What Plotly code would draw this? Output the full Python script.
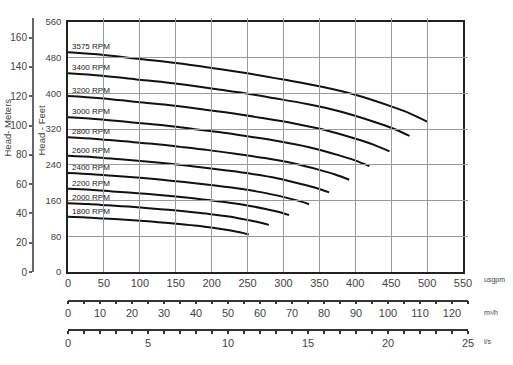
import plotly.graph_objects as go

# ---- data ----
rpm_labels = ["3575 RPM", "3400 RPM", "3200 RPM", "3000 RPM", "2800 RPM",
              "2600 RPM", "2400 RPM", "2200 RPM", "2000 RPM", "1800 RPM"]

q_3575 = [0, 50, 100, 150, 200, 250, 300, 350, 400, 450, 475, 500]
h_3575 = [492, 486, 477, 468, 457, 445, 431, 416, 397, 371, 356, 337]
q_3400 = [0, 47.6, 95.1, 142.7, 190.2, 237.8, 285.3, 332.9, 380.4, 428.0, 451.7, 475.5]
h_3400 = [445.0, 439.6, 431.4, 423.3, 413.4, 402.5, 389.8, 376.3, 359.1, 335.6, 322.0, 304.8]
q_3200 = [0, 44.8, 89.5, 134.3, 179.0, 223.8, 268.5, 313.3, 358.0, 402.8, 425.2, 447.6]
h_3200 = [394.2, 389.4, 382.2, 375.0, 366.1, 356.5, 345.3, 333.3, 318.1, 297.2, 285.2, 270.0]
q_3000 = [0, 42.0, 83.9, 125.9, 167.8, 209.8, 251.7, 293.7, 335.7, 377.6, 398.6, 419.6]
h_3000 = [346.5, 342.2, 335.9, 329.6, 321.8, 313.4, 303.5, 292.9, 279.6, 261.3, 250.7, 237.3]
q_2800 = [0, 39.2, 78.3, 117.5, 156.6, 195.8, 235.0, 274.1, 313.3, 352.4, 372.0, 391.6]
h_2800 = [301.8, 298.1, 292.6, 287.1, 280.3, 273.0, 264.4, 255.2, 243.5, 227.6, 218.4, 206.7]
q_2600 = [0, 36.4, 72.7, 109.1, 145.5, 181.8, 218.2, 254.5, 290.9, 327.3, 345.5, 363.6]
h_2600 = [260.2, 257.1, 252.3, 247.5, 241.7, 235.4, 228.0, 220.0, 210.0, 196.2, 188.3, 178.3]
q_2400 = [0, 33.6, 67.1, 100.7, 134.3, 167.8, 201.4, 235.0, 268.5, 302.1, 318.9, 335.7]
h_2400 = [221.7, 219.0, 215.0, 210.9, 206.0, 200.6, 194.2, 187.5, 178.9, 167.2, 160.4, 151.9]
q_2200 = [0, 30.8, 61.5, 92.3, 123.1, 153.8, 184.6, 215.4, 246.2, 276.9, 292.3, 307.7]
h_2200 = [186.3, 184.0, 180.6, 177.2, 173.1, 168.5, 163.2, 157.5, 150.3, 140.5, 134.8, 127.6]
q_2000 = [0, 28.0, 55.9, 83.9, 111.9, 139.9, 167.8, 195.8, 223.8, 251.7, 265.7, 279.7]
h_2000 = [154.0, 152.1, 149.3, 146.5, 143.0, 139.3, 134.9, 130.2, 124.3, 116.1, 111.4, 105.5]
q_1800 = [0, 25.2, 50.3, 75.5, 100.7, 125.9, 151.0, 176.2, 201.4, 226.6, 239.2, 251.7]
h_1800 = [123.5, 122.0, 119.7, 117.4, 114.7, 111.6, 108.2, 104.2, 99.3, 92.8, 88.9, 84.0]

usgpm_ticks = [0, 50, 100, 150, 200, 250, 300, 350, 400, 450, 500, 550]
feet_ticks = [0, 80, 160, 240, 320, 400, 480, 560]
meter_ticks = [0, 20, 40, 60, 80, 100, 120, 140, 160]
m3h_ticks = [0, 10, 20, 30, 40, 50, 60, 70, 80, 90, 100, 110, 120]
ls_ticks = [0, 5, 10, 15, 20, 25]

series_q = [q_3575, q_3400, q_3200, q_3000, q_2800, q_2600, q_2400, q_2200, q_2000, q_1800]
series_h = [h_3575, h_3400, h_3200, h_3000, h_2800, h_2600, h_2400, h_2200, h_2000, h_1800]

# ---- geometry (pixels of the 513x365 canvas) ----
W, H = 513, 365
ML, MR, MT, MB = 33, 45, 18, 33
PW = W - ML - MR
PH = H - MT - MB

def px(x):
    return (x - ML) / PW

def py(y):
    return (H - MB - y) / PH

FONT = "Liberation Sans, Arial, sans-serif"
TXT = "#444444"

fig = go.Figure()

for q, h in zip(series_q, series_h):
    fig.add_trace(go.Scatter(x=q, y=h, mode="lines", line=dict(color="#111111", width=2, shape="spline"),
                             hoverinfo="skip", showlegend=False))

# invisible helper traces so that the extra scale axes are drawn
fig.add_trace(go.Scatter(x=[0, 125], y=[0, 0], xaxis="x2", yaxis="y", mode="markers",
                         marker=dict(opacity=0), hoverinfo="skip", showlegend=False))
fig.add_trace(go.Scatter(x=[0, 25], y=[0, 0], xaxis="x3", yaxis="y", mode="markers",
                         marker=dict(opacity=0), hoverinfo="skip", showlegend=False))
fig.add_trace(go.Scatter(x=[0, 0], y=[0, 160], xaxis="x", yaxis="y2", mode="markers",
                         marker=dict(opacity=0), hoverinfo="skip", showlegend=False))

ft_per_m = 3.2808
y_bot, y_top = 272, 22
meter_top_px = 18
meter_range_top = (560 / ft_per_m) * (y_bot - meter_top_px) / (y_bot - y_top)

fig.update_layout(
    template="none",
    width=W, height=H,
    margin=dict(l=ML, r=MR, t=MT, b=MB, pad=0, autoexpand=False),
    paper_bgcolor="white", plot_bgcolor="rgba(0,0,0,0)",
    font=dict(family=FONT, size=11, color=TXT),
    showlegend=False,
    xaxis=dict(domain=[px(68), px(463)], range=[0, 550], tickvals=usgpm_ticks, automargin=False,
               showgrid=True, gridcolor="#9a9a9a", gridwidth=1, zeroline=False,
               showline=True, linecolor="#222222", linewidth=1.5, mirror=True,
               ticks="", tickfont=dict(size=11, color=TXT), anchor="y"),
    yaxis=dict(domain=[py(y_bot), py(y_top)], range=[0, 560], tickvals=feet_ticks, automargin=False,
               showgrid=True, gridcolor="#9a9a9a", gridwidth=1, zeroline=False,
               showline=True, linecolor="#222222", linewidth=1.5, mirror=True,
               ticks="", ticklabelstandoff=3, tickfont=dict(size=9.5, color=TXT), anchor="x"),
    yaxis2=dict(domain=[py(y_bot), py(meter_top_px)], range=[0, meter_range_top], tickvals=meter_ticks,
                anchor="free", position=0, side="left", showgrid=False, zeroline=False, automargin=False,
                showline=True, linecolor="#666666", linewidth=2,
                ticks="outside", ticklen=3, tickwidth=1.5, tickcolor="#666666",
                tickfont=dict(size=10, color=TXT)),
    xaxis2=dict(domain=[px(68), px(468)], range=[0, 125], tickvals=m3h_ticks,
                anchor="free", position=py(300.5), showgrid=False, zeroline=False, automargin=False,
                showline=True, linecolor="#333333", linewidth=1.5,
                ticks="outside", ticklen=3, tickwidth=1.5, tickcolor="#333333",
                minor=dict(dtick=5, tick0=0, ticks="outside", ticklen=3, tickwidth=1.5, tickcolor="#333333"),
                tickfont=dict(size=11, color=TXT)),
    xaxis3=dict(domain=[px(68), px(468)], range=[0, 25], tickvals=ls_ticks,
                anchor="free", position=py(330), showgrid=False, zeroline=False, automargin=False,
                showline=True, linecolor="#333333", linewidth=1.5,
                ticks="outside", ticklen=3, tickwidth=1.5, tickcolor="#333333",
                minor=dict(dtick=1, tick0=0, ticks="outside", ticklen=3, tickwidth=1.5, tickcolor="#333333"),
                tickfont=dict(size=11, color=TXT)),
)

ann = []
for label, h in zip(rpm_labels, series_h):
    ann.append(dict(x=0, y=h[0], xref="x", yref="y", text=label, showarrow=False,
                    xanchor="left", yanchor="bottom", xshift=2, yshift=-1,
                    font=dict(size=8, color="#222222", family=FONT)))

ann.append(dict(x=px(6.5), y=py(128), xref="paper", yref="paper", text="Head- Meters", textangle=-90,
                xanchor="center", yanchor="middle",
                showarrow=False, font=dict(size=9.5, color=TXT, family=FONT)))
ann.append(dict(x=px(40.5), y=py(130), xref="paper", yref="paper", text="Head - Feet", textangle=-90,
                xanchor="center", yanchor="middle",
                showarrow=False, font=dict(size=9.5, color=TXT, family=FONT)))
ann.append(dict(x=px(482), y=py(280), xref="paper", yref="paper", text="usgpm", xanchor="left",
                yanchor="middle", showarrow=False, font=dict(size=7, color=TXT, family=FONT)))
ann.append(dict(x=px(482), y=py(312), xref="paper", yref="paper", text="m³/h", xanchor="left",
                yanchor="middle", showarrow=False, font=dict(size=7, color=TXT, family=FONT)))
ann.append(dict(x=px(482), y=py(341), xref="paper", yref="paper", text="l/s", xanchor="left",
                yanchor="middle", showarrow=False, font=dict(size=7, color=TXT, family=FONT)))
fig.update_layout(annotations=ann)

fig.write_html("out.html", config={"displayModeBar": False},
               post_script="document.body.style.margin='0';document.body.style.overflow='hidden';")
